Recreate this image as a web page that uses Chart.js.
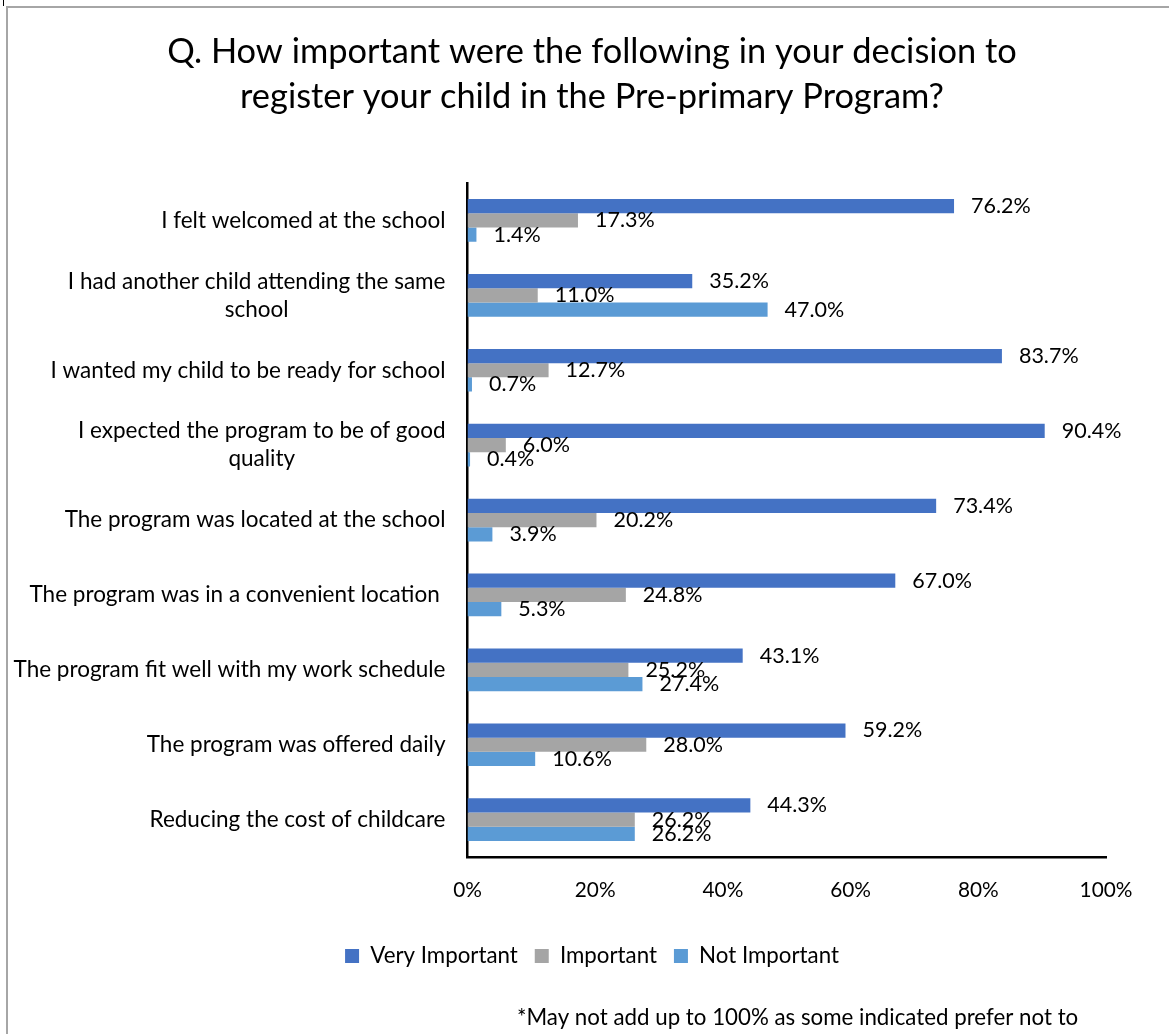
<!DOCTYPE html>
<html>
<head>
<meta charset="utf-8">
<script src="https://cdn.jsdelivr.net/npm/chart.js@4.4.1/dist/chart.umd.min.js"></script>
<style>
  html, body { margin: 0; padding: 0; background: #fff; }
  #wrap { position: relative; width: 1169px; height: 1034px; overflow: hidden; }
  #frame { position: absolute; left: 6px; top: 6px; width: 1200px; height: 1100px; border-left: 2px solid #a6a6a6; border-top: 2px solid #a6a6a6; }
  #mark { position: absolute; left: 3px; top: 0; width: 1px; height: 6px; background: #000; }
  canvas { position: absolute; left: 0; top: 0; }
</style>
</head>
<body>
<div id="wrap">
  <div id="frame"></div>
  <div id="mark"></div>
  <canvas id="grafico" width="1169" height="1034"></canvas>
</div>
<script>
// DADOS
var categorias = [
  'I felt welcomed at the school',
  ['I had another child attending the same', 'school'],
  'I wanted my child to be ready for school',
  ['I expected the program to be of good', 'quality'],
  'The program was located at the school',
  'The program was in a convenient location ',
  'The program fit well with my work schedule',
  'The program was offered daily',
  'Reducing the cost of childcare'
];
var muitoImportante = [76.2, 35.2, 83.7, 90.4, 73.4, 67.0, 43.1, 59.2, 44.3];
var importante = [17.3, 11.0, 12.7, 6.0, 20.2, 24.8, 25.2, 28.0, 26.2];
var naoImportante = [1.4, 47.0, 0.7, 0.4, 3.9, 5.3, 27.4, 10.6, 26.2];
var ticksX = [0, 20, 40, 60, 80, 100];

var fonte = 'Lato, "Open Sans", sans-serif';

// rotulos do eixo y (linhas centralizadas, bloco alinhado a direita)
var rotulosY = {
  id: 'rotulosY',
  afterDraw: function(chart) {
    var ctx = chart.ctx;
    var y = chart.scales.y;
    ctx.save();
    ctx.font = '22.5px ' + fonte;
    ctx.fillStyle = '#000';
    ctx.textAlign = 'center';
    ctx.textBaseline = 'middle';
    categorias.forEach(function(lab, i) {
      var linhas = Array.isArray(lab) ? lab : [lab];
      var maior = Math.max.apply(null, linhas.map(function(l) { return ctx.measureText(l).width; }));
      var cx = y.right - 22 - maior / 2;
      var cy = y.getPixelForTick(i);
      linhas.forEach(function(l, j) {
        ctx.fillText(l, cx, cy + (j - (linhas.length - 1) / 2) * 28);
      });
    });
    ctx.restore();
  }
};

// valores ao lado das barras
var valores = {
  id: 'valores',
  afterDatasetsDraw: function(chart) {
    var ctx = chart.ctx;
    ctx.save();
    ctx.font = '21.5px ' + fonte;
    ctx.fillStyle = '#000';
    ctx.textAlign = 'left';
    ctx.textBaseline = 'middle';
    chart.data.datasets.forEach(function(ds, di) {
      chart.getDatasetMeta(di).data.forEach(function(bar, i) {
        ctx.fillText(ds.data[i].toFixed(1) + '%', bar.x + 17, bar.y);
      });
    });
    ctx.restore();
  }
};

// nota de rodape
var nota = {
  id: 'nota',
  afterDraw: function(chart) {
    var ctx = chart.ctx;
    ctx.save();
    ctx.font = '22.3px ' + fonte;
    ctx.fillStyle = '#000';
    ctx.textAlign = 'left';
    ctx.textBaseline = 'alphabetic';
    ctx.fillText('*May not add up to 100% as some indicated prefer not to', 517, 1025);
    ctx.restore();
  }
};

var ctx = document.getElementById('grafico').getContext('2d');
var grafico = new Chart(ctx, {
  type: 'bar',
  data: {
    labels: categorias,
    datasets: [{
      label: 'Very Important',
      data: muitoImportante,
      backgroundColor: '#4472C4',
      borderWidth: 0
    }, {
      label: 'Important',
      data: importante,
      backgroundColor: '#A5A5A5',
      borderWidth: 0
    }, {
      label: 'Not Important',
      data: naoImportante,
      backgroundColor: '#5B9BD5',
      borderWidth: 0
    }]
  },
  options: {
    indexAxis: 'y',
    responsive: false,
    animation: false,
    datasets: {
      bar: { categoryPercentage: 0.57, barPercentage: 1.0 }
    },
    layout: {
      padding: { left: 78, right: 63, top: 0, bottom: 56.8 }
    },
    scales: {
      x: {
        min: 0,
        max: 100,
        afterBuildTicks: function(scale) {
          scale.ticks = ticksX.map(function(v) { return { value: v }; });
        },
        afterFit: function(scale) { scale.height = 70.8; },
        grid: { display: false, drawTicks: false },
        border: { color: '#000', width: 2.5 },
        ticks: {
          padding: 21,
          color: '#000',
          font: { family: fonte, size: 20.8 },
          callback: function(v) { return v + '%'; }
        }
      },
      y: {
        afterFit: function(scale) { scale.width = 389.5; },
        grid: { display: false, drawTicks: false },
        border: { color: '#000', width: 2.5 },
        ticks: { display: false }
      }
    },
    plugins: {
      title: {
        display: true,
        text: ['Q. How important were the following in your decision to', 'register your child in the Pre-primary Program?'],
        color: '#000',
        font: { family: fonte, size: 34.4, weight: 'normal', lineHeight: '45px' },
        padding: { top: 29, bottom: 64 }
      },
      legend: {
        position: 'bottom',
        labels: {
          boxWidth: 14,
          boxHeight: 14,
          padding: 17,
          color: '#000',
          font: { family: fonte, size: 22.3 }
        }
      },
      tooltip: { enabled: false }
    }
  },
  plugins: [rotulosY, valores, nota]
});
</script>
</body>
</html>
